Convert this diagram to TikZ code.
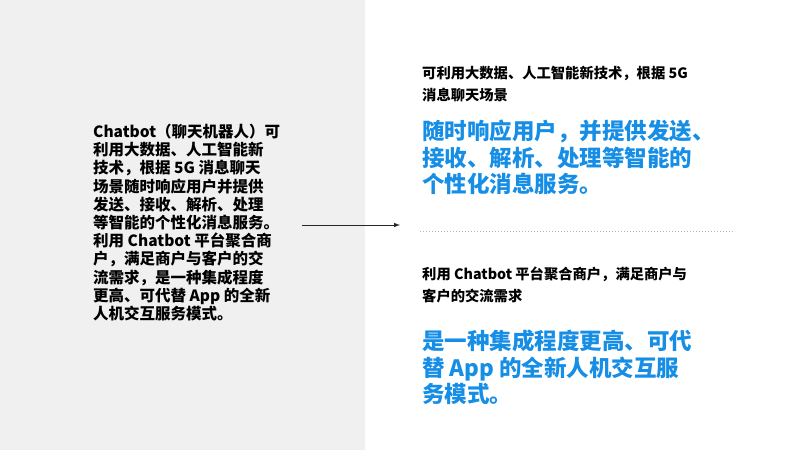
\documentclass[tikz,border=0pt]{standalone}
\usepackage{fontspec}
\setmainfont{Noto Sans CJK SC}
\usetikzlibrary{positioning}
\definecolor{panelgray}{RGB}{240,240,240}
\definecolor{hiblue}{RGB}{22,142,230}
\tikzset{
  bodytext/.style={anchor=north west, align=left, inner sep=0pt, font=\fontsize{15.5}{18.2}\selectfont\bfseries},
  smalltext/.style={anchor=north west, align=left, inner sep=0pt, font=\fontsize{14.3}{22}\selectfont\bfseries},
  bigtext/.style={anchor=north west, align=left, inner sep=0pt, text=hiblue, font=\fontsize{22.5}{26.5}\selectfont\bfseries}
}
\begin{document}
\begin{tikzpicture}[x=1pt,y=-1pt]
    \useasboundingbox (0,0) rectangle (800,450);
    % grey panel on the left
    \fill[panelgray] (0,0) rectangle (365,450);

    % left text block
    \node[bodytext] (Intro) at (93,124) {Chatbot（聊天机器人）可\\利用大数据、人工智能新\\技术，根据 5G 消息聊天\\场景随时响应用户并提供\\发送、接收、解析、处理\\等智能的个性化消息服务。\\利用 Chatbot 平台聚合商\\户，满足商户与客户的交\\流需求，是一种集成程度\\更高、可代替 App 的全新\\人机交互服务模式。};

    % right column, upper part
    \node[smalltext] (TechNote) at (422,66) {可利用大数据、人工智能新技术，根据 5G\\消息聊天场景};
    \node[bigtext] (TechMain) at (422,120) {随时响应用户，并提供发送、\\接收、解析、处理等智能的\\个性化消息服务。};

    % right column, lower part
    \node[smalltext] (PlatNote) at (422,267) {利用 Chatbot 平台聚合商户，满足商户与\\客户的交流需求};
    \node[bigtext] (PlatMain) at (422,330) {是一种集成程度更高、可代\\替 App 的全新人机交互服\\务模式。};

    % arrow and separator
    \coordinate (ArrowStart) at (302,225);
    \coordinate (ArrowEnd) at (400,225);
    \draw[-latex, line width=1pt, black!85] (ArrowStart) -- (ArrowEnd);
    \coordinate (SepLeft) at (420,231);
    \coordinate (SepRight) at (735,231);
    \draw[black!30, dotted, line width=1pt] (SepLeft) -- (SepRight);
\end{tikzpicture}
\end{document}
